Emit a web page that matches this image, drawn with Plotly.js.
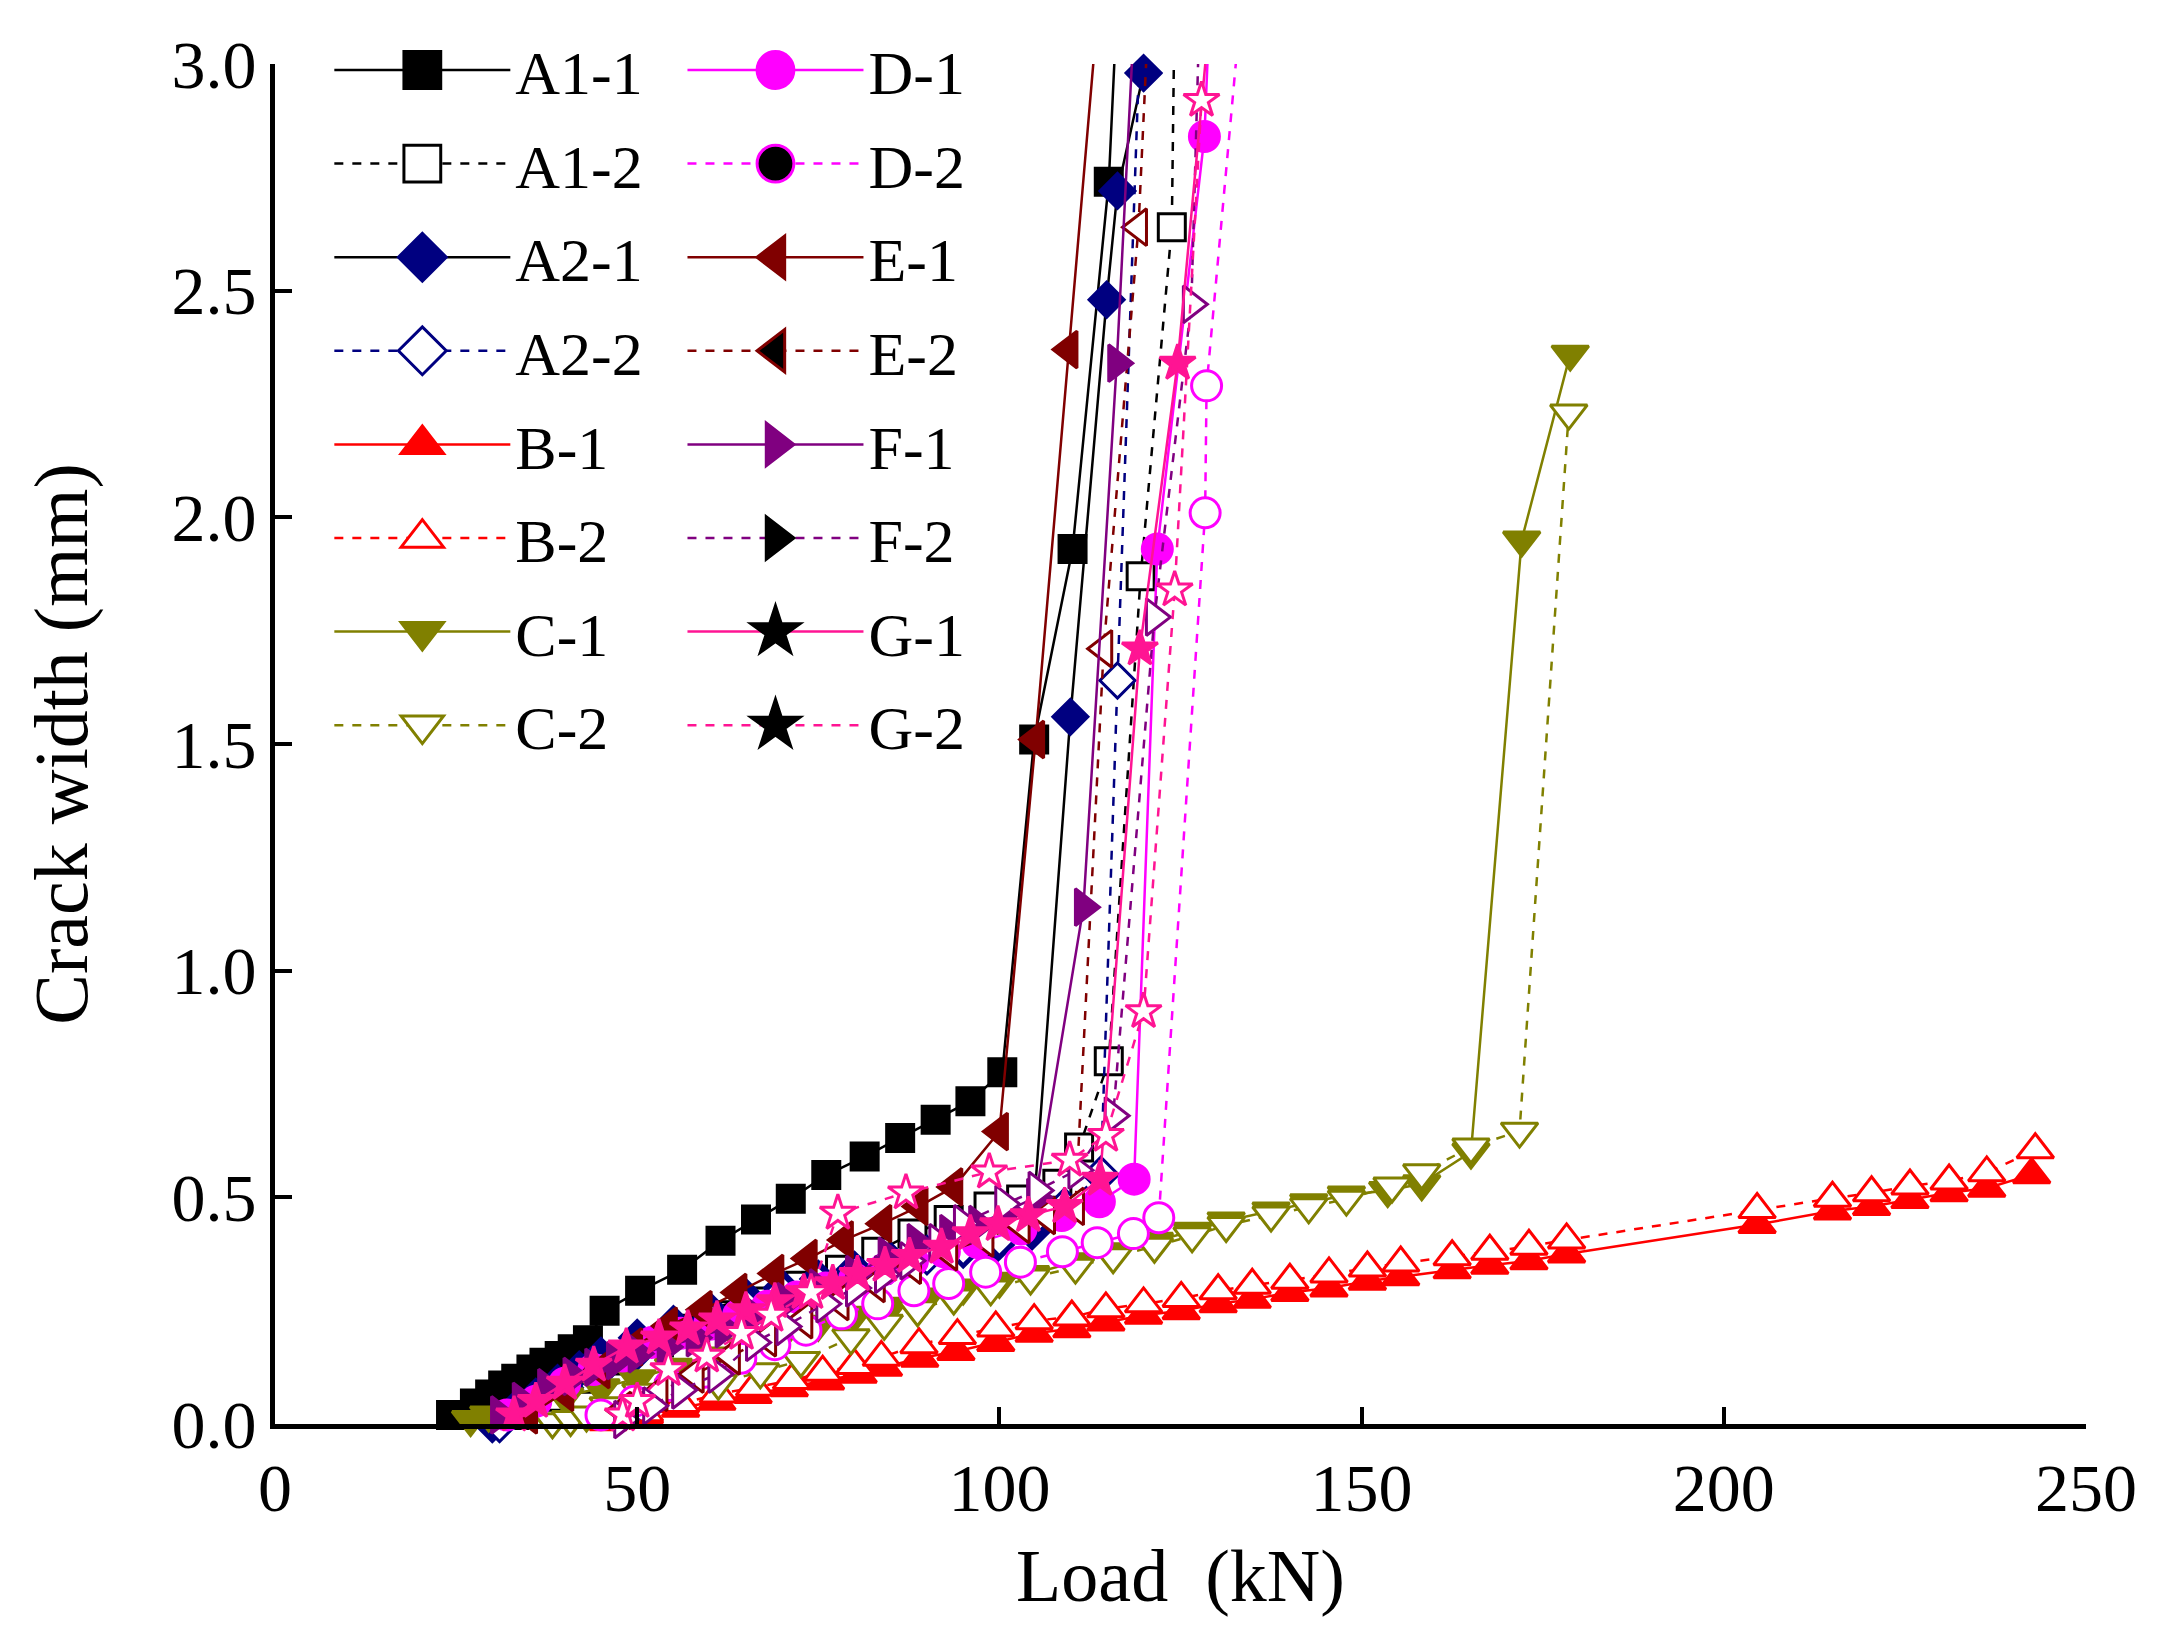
<!DOCTYPE html>
<html>
<head>
<meta charset="utf-8">
<script src="https://cdn.plot.ly/plotly-3.0.1.min.js"></script>
<style>html,body{margin:0;padding:0;background:#fff;}#chart{width:2177px;height:1631px;}</style>
</head>
<body>
<div id="chart"></div>
<script>
// ---------------- DATA (Load in kN, crack width in mm) ----------------
const seriesNames = ['A1-1','A1-2','A2-1','A2-2','B-1','B-2','C-1','C-2','D-1','D-2','E-1','E-2','F-1','F-2','G-1','G-2'];

const A1_1_load  = [24.3, 27.6, 29.7, 31.5, 33.3, 35.4, 37.2, 39.3, 41.1, 43.2, 45.5, 50.4, 56.2, 61.5, 66.4, 71.2, 76.1, 81.4, 86.3, 91.2, 96.0, 100.4, 104.8, 110.1, 115.1, 116.3];
const A1_1_crack = [0.02, 0.045, 0.065, 0.085, 0.10, 0.12, 0.135, 0.15, 0.165, 0.185, 0.25, 0.294, 0.340, 0.404, 0.451, 0.497, 0.549, 0.590, 0.631, 0.671, 0.712, 0.776, 1.51, 1.93, 2.74, 3.15];

const A1_2_load  = [33, 38, 43, 48, 53, 58, 63, 68, 72.5, 78, 83, 88, 93, 98.5, 103, 108, 111, 115.1, 119.5, 123.8, 124.2];
const A1_2_crack = [0.02, 0.06, 0.10, 0.14, 0.18, 0.21, 0.24, 0.27, 0.305, 0.34, 0.38, 0.42, 0.45, 0.48, 0.495, 0.53, 0.61, 0.80, 1.87, 2.64, 3.15];

const A2_1_load  = [30, 33, 36, 39, 42, 45, 50, 55, 60, 65, 70, 75, 80, 85, 90, 95, 99.5, 104.5, 109.8, 114.8, 116.3, 119.9];
const A2_1_crack = [0.0, 0.03, 0.06, 0.09, 0.12, 0.15, 0.19, 0.22, 0.25, 0.28, 0.30, 0.32, 0.34, 0.36, 0.375, 0.385, 0.395, 0.425, 1.56, 2.48, 2.72, 2.98];

const A2_2_load  = [31, 35, 40, 45, 50, 55, 60, 65, 70, 75, 80, 85, 90, 95, 100, 104, 109, 114, 116.3, 119.6];
const A2_2_crack = [0.0, 0.04, 0.08, 0.12, 0.16, 0.20, 0.23, 0.26, 0.29, 0.31, 0.33, 0.35, 0.37, 0.39, 0.41, 0.44, 0.48, 0.55, 1.64, 3.15];

const B_1_load  = [46, 51, 56, 61, 66, 71, 76, 80.5, 84, 89, 94, 99.5, 104.8, 110, 114.7, 119.9, 125.1, 130.2, 134.9, 140.1, 145.5, 150.8, 155.4, 162.5, 167.7, 173.1, 178.3, 204.6, 215, 220.4, 225.7, 231.1, 236.3, 242.5];
const B_1_crack = [0.005, 0.02, 0.035, 0.05, 0.065, 0.08, 0.095, 0.11, 0.125, 0.145, 0.16, 0.18, 0.20, 0.21, 0.225, 0.24, 0.25, 0.265, 0.275, 0.29, 0.30, 0.315, 0.325, 0.34, 0.35, 0.36, 0.375, 0.44, 0.47, 0.48, 0.495, 0.51, 0.52, 0.55];

const B_2_load  = [51, 56, 61.2, 66.2, 71.3, 75.6, 80, 83.7, 88.9, 94.2, 99.5, 104.8, 110, 114.7, 119.9, 125.1, 130.2, 134.9, 140.1, 145.5, 150.8, 155.4, 162.5, 167.7, 173.1, 178.3, 204.6, 215, 220.4, 225.7, 231.1, 236.3, 243];
const B_2_crack = [0.025, 0.045, 0.066, 0.081, 0.096, 0.114, 0.129, 0.147, 0.175, 0.195, 0.212, 0.228, 0.236, 0.254, 0.265, 0.277, 0.294, 0.306, 0.317, 0.331, 0.344, 0.355, 0.369, 0.381, 0.392, 0.406, 0.473, 0.498, 0.51, 0.525, 0.536, 0.554, 0.605];

const C_1_load  = [27, 29.5, 32.5, 36, 40, 45, 50, 55, 60, 65, 70, 75, 80, 85, 90, 95, 100, 104.3, 110.5, 115.7, 121.4, 126.6, 131.3, 137.5, 142.7, 147.9, 153.6, 158.3, 165.1, 172.1, 178.8];
const C_1_crack = [0.01, 0.02, 0.03, 0.045, 0.06, 0.08, 0.10, 0.125, 0.15, 0.17, 0.195, 0.22, 0.24, 0.26, 0.28, 0.30, 0.315, 0.33, 0.358, 0.38, 0.403, 0.425, 0.448, 0.47, 0.488, 0.505, 0.515, 0.53, 0.60, 1.95, 2.36];

const C_2_load  = [38.3, 40.8, 43, 46, 50.5, 55, 61.2, 67, 72.6, 79.5, 84.1, 88.7, 93.7, 98.8, 104.3, 110.5, 115.7, 121.4, 126.6, 131.3, 137.5, 142.7, 147.9, 154.2, 158.3, 165.1, 171.8, 178.6];
const C_2_crack = [0.005, 0.01, 0.02, 0.04, 0.07, 0.08, 0.09, 0.115, 0.14, 0.19, 0.222, 0.252, 0.278, 0.298, 0.322, 0.346, 0.369, 0.392, 0.415, 0.438, 0.461, 0.479, 0.496, 0.525, 0.554, 0.611, 0.646, 2.23];

const D_1_load  = [32, 36, 40, 44, 48, 52, 56, 60, 64, 68, 72, 76, 80, 84, 88, 92.4, 97, 103, 108.6, 113.8, 118.6, 121.8, 128.3, 129.1];
const D_1_crack = [0.02, 0.05, 0.09, 0.12, 0.15, 0.18, 0.20, 0.22, 0.24, 0.26, 0.28, 0.30, 0.32, 0.34, 0.36, 0.38, 0.40, 0.43, 0.46, 0.49, 0.54, 1.93, 2.84, 3.15];

const D_2_load  = [45, 49.6, 54.5, 59.3, 64.3, 69, 73.3, 78.2, 83.2, 88.2, 93, 98.1, 102.9, 108.7, 113.5, 118.5, 122, 128.4, 128.6, 133.2];
const D_2_crack = [0.02, 0.05, 0.085, 0.114, 0.145, 0.175, 0.207, 0.243, 0.265, 0.294, 0.31, 0.335, 0.357, 0.38, 0.40, 0.42, 0.455, 2.01, 2.29, 3.1];

const E_1_load  = [35, 40, 45, 49.5, 54.3, 59.1, 63.9, 69, 73.6, 78.6, 83.9, 88.9, 93.7, 100, 105, 109.6, 113.6];
const E_1_crack = [0.02, 0.07, 0.12, 0.17, 0.216, 0.252, 0.29, 0.332, 0.365, 0.406, 0.442, 0.48, 0.523, 0.645, 1.51, 2.37, 3.12];

const E_2_load  = [48, 53, 58, 63, 68, 73, 78, 83, 88, 93, 98, 103, 106.5, 110.5, 114.4, 119.2, 120.6];
const E_2_crack = [0.03, 0.07, 0.11, 0.15, 0.19, 0.23, 0.27, 0.31, 0.35, 0.38, 0.41, 0.44, 0.46, 0.48, 1.71, 2.64, 3.12];

const F_1_load  = [31, 34, 37.5, 41, 44, 47, 50, 54, 58, 62, 66, 70.5, 75, 80, 84.5, 88.5, 93, 97, 101, 105, 111.6, 116.2, 118.6];
const F_1_crack = [0.02, 0.05, 0.08, 0.105, 0.125, 0.14, 0.155, 0.17, 0.19, 0.21, 0.24, 0.27, 0.30, 0.33, 0.37, 0.40, 0.42, 0.44, 0.47, 0.50, 1.14, 2.34, 3.1];

const F_2_load  = [48, 52, 56, 61, 66.2, 70.4, 75.9, 80, 84, 87.5, 91.5, 94.9, 100.6, 105.2, 110.7, 115.7, 121.4, 126.5, 127.6];
const F_2_crack = [0.01, 0.04, 0.075, 0.11, 0.18, 0.215, 0.265, 0.3, 0.33, 0.36, 0.40, 0.442, 0.485, 0.515, 0.56, 0.68, 1.78, 2.47, 3.1];

const G_1_load  = [33, 36, 40, 44, 48.5, 53, 57, 61, 65, 69, 73, 77, 80.4, 84.2, 87.6, 92, 96, 99.8, 104, 109, 113.9, 119.4, 124.6, 129];
const G_1_crack = [0.02, 0.05, 0.09, 0.13, 0.17, 0.19, 0.21, 0.23, 0.25, 0.27, 0.29, 0.31, 0.33, 0.35, 0.37, 0.39, 0.42, 0.44, 0.46, 0.48, 0.54, 1.71, 2.34, 3.1];

const G_2_load  = [48, 50, 54.3, 59.6, 64.4, 68.5, 74, 77.7, 87.1, 98.6, 109.7, 114.7, 119.9, 124.2, 127.9];
const G_2_crack = [0.02, 0.05, 0.12, 0.15, 0.20, 0.24, 0.29, 0.465, 0.51, 0.556, 0.582, 0.637, 0.91, 1.84, 2.92];

const xTicks = [0, 50, 100, 150, 200, 250];
const yTicks = [0.0, 0.5, 1.0, 1.5, 2.0, 2.5, 3.0];

const seriesData = {
  'A1-1': [A1_1_load, A1_1_crack], 'A1-2': [A1_2_load, A1_2_crack],
  'A2-1': [A2_1_load, A2_1_crack], 'A2-2': [A2_2_load, A2_2_crack],
  'B-1': [B_1_load, B_1_crack],    'B-2': [B_2_load, B_2_crack],
  'C-1': [C_1_load, C_1_crack],    'C-2': [C_2_load, C_2_crack],
  'D-1': [D_1_load, D_1_crack],    'D-2': [D_2_load, D_2_crack],
  'E-1': [E_1_load, E_1_crack],    'E-2': [E_2_load, E_2_crack],
  'F-1': [F_1_load, F_1_crack],    'F-2': [F_2_load, F_2_crack],
  'G-1': [G_1_load, G_1_crack],    'G-2': [G_2_load, G_2_crack]
};

// ---------------- STYLES ----------------
const BLACK='#000000', NAVY='#000080', RED='#FF0000', OLIVE='#808000', MAG='#FF00FF', DRED='#800000', PURP='#800080', PINK='#FF1493', WHITE='#FFFFFF';
const styles = {
  'A1-1': {mc:BLACK, line:BLACK, sym:'square',        fill:BLACK, dash:'solid', lf:BLACK, le:BLACK, size:27},
  'A1-2': {mc:BLACK, line:BLACK, sym:'square',        fill:WHITE, dash:'dash',  lf:WHITE, le:BLACK, size:27},
  'A2-1': {mc:NAVY,  line:BLACK, sym:'diamond',       fill:NAVY,  dash:'solid', lf:NAVY,  le:NAVY,  size:27},
  'A2-2': {mc:NAVY,  line:NAVY,  sym:'diamond',       fill:WHITE, dash:'dash',  lf:WHITE, le:NAVY,  size:27},
  'B-1':  {mc:RED,   line:RED,   sym:'triangle-up',   fill:RED,   dash:'solid', lf:RED,   le:RED,   size:32},
  'B-2':  {mc:RED,   line:RED,   sym:'triangle-up',   fill:WHITE, dash:'dash',  lf:WHITE, le:RED,   size:32},
  'C-1':  {mc:OLIVE, line:OLIVE, sym:'triangle-down', fill:OLIVE, dash:'solid', lf:OLIVE, le:OLIVE, size:32},
  'C-2':  {mc:OLIVE, line:OLIVE, sym:'triangle-down', fill:WHITE, dash:'dash',  lf:WHITE, le:OLIVE, size:32},
  'D-1':  {mc:MAG,   line:MAG,   sym:'circle',        fill:MAG,   dash:'solid', lf:MAG,   le:MAG,   size:30},
  'D-2':  {mc:MAG,   line:MAG,   sym:'circle',        fill:WHITE, dash:'dash',  lf:BLACK, le:MAG,   size:30},
  'E-1':  {mc:DRED,  line:DRED,  sym:'triangle-left', fill:DRED,  dash:'solid', lf:DRED,  le:DRED,  size:32},
  'E-2':  {mc:DRED,  line:DRED,  sym:'triangle-left', fill:WHITE, dash:'dash',  lf:BLACK, le:DRED,  size:32},
  'F-1':  {mc:PURP,  line:PURP,  sym:'triangle-right',fill:PURP,  dash:'solid', lf:PURP,  le:PURP,  size:32},
  'F-2':  {mc:PURP,  line:PURP,  sym:'triangle-right',fill:WHITE, dash:'dash',  lf:BLACK, le:BLACK, size:32},
  'G-1':  {mc:PINK,  line:PINK,  sym:'star',          fill:PINK,  dash:'solid', lf:BLACK, le:BLACK, size:27},
  'G-2':  {mc:PINK,  line:PINK,  sym:'star',          fill:WHITE, dash:'dash',  lf:BLACK, le:BLACK, size:27}
};

const FONT = 'Liberation Serif, Times New Roman, serif';
const traces = [];
// plotted series (no legend)
seriesNames.forEach(name => {
  const s = styles[name];
  const [x, y] = seriesData[name];
  traces.push({
    type:'scatter', mode:'lines+markers', name:name, x:x, y:y,
    showlegend:false, cliponaxis:false,
    line:{color:s.line, width:2.5, dash:s.dash},
    marker:{symbol:s.sym, color:s.fill, opacity:1, size:y.map(v => v > 3 ? 0 : s.size), line:{color:s.mc, width:3}}
  });
});
// legend entries
seriesNames.forEach((name, i) => {
  const s = styles[name];
  traces.push({
    type:'scatter', mode:'lines+markers', name:name, x:[null], y:[null],
    showlegend:true, legend: i < 8 ? 'legend' : 'legend2', legendgroup:'g'+i,
    line:{color:s.line, width:2.5, dash:s.dash},
    marker:{symbol:s.sym, color:s.lf, opacity:1, size:s.size, line:{color:s.le, width:3}}
  });
});

const legendCommon = {
  xanchor:'left', yanchor:'top', bgcolor:'rgba(0,0,0,0)', borderwidth:0,
  font:{family:FONT, size:62, color:BLACK}, itemwidth:176, tracegroupgap:10,
  itemsizing:'trace', traceorder:'grouped', itemclick:false
};

const layout = {
  width:2177, height:1631,
  margin:{l:275, r:91, t:64, b:207, autoexpand:false},
  paper_bgcolor:WHITE, plot_bgcolor:WHITE,
  font:{family:FONT, color:BLACK, size:62},
  showlegend:true,
  xaxis:{
    range:[0,250], tickmode:'array', tickvals:xTicks, ticktext:xTicks.map(String),
    ticks:'inside', ticklen:17, tickwidth:4, tickcolor:BLACK,
    showline:true, linewidth:5, linecolor:BLACK, mirror:false,
    showgrid:false, zeroline:false, automargin:false,
    tickfont:{family:FONT, size:68, color:BLACK},
    title:{text:'Load\u00a0\u00a0(kN)', font:{family:FONT, size:74, color:BLACK}, standoff:26}
  },
  yaxis:{
    range:[0,3], tickmode:'array', tickvals:yTicks, ticktext:yTicks.map(v => v.toFixed(1)),
    ticks:'inside', ticklen:17, tickwidth:4, tickcolor:BLACK,
    showline:true, linewidth:5, linecolor:BLACK, mirror:false,
    showgrid:false, zeroline:false, automargin:false,
    tickfont:{family:FONT, size:68, color:BLACK},
    title:{text:'Crack width (mm)', font:{family:FONT, size:76, color:BLACK}, standoff:60}
  },
  legend:Object.assign({}, legendCommon, {x:0.03, y:1.03}),
  legend2:Object.assign({}, legendCommon, {x:0.225, y:1.03})
};

Plotly.newPlot('chart', traces, layout, {staticPlot:true, displayModeBar:false}).then(gd => {
  // enlarge the legend symbols to the size used in the plot area (legend caps them at 16px)
  gd.querySelectorAll('.infolayer .legendpoints path.scatterpts').forEach(p => {
    const t = p.getAttribute('transform') || '';
    p.setAttribute('transform', t + ' scale(2.3)');
    p.style.vectorEffect = 'non-scaling-stroke';
  });
});
</script>
</body>
</html>
